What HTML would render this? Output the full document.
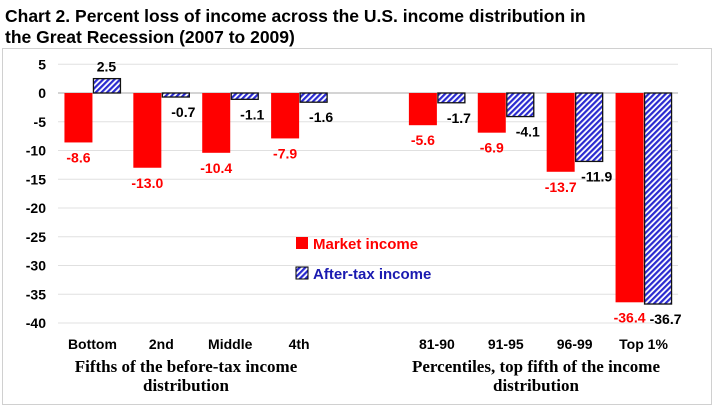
<!DOCTYPE html>
<html><head><meta charset="utf-8"><style>
body{margin:0;background:#fff;width:719px;height:411px;overflow:hidden;font-family:"Liberation Sans",sans-serif}
</style></head><body>
<svg width="719" height="411">
<defs><pattern id="hatch" width="4" height="4" patternUnits="userSpaceOnUse" patternTransform="rotate(45)">
<rect width="4" height="4" fill="#fff"/><rect width="2.2" height="4" fill="#2a2ad0"/></pattern></defs>
<text x="5" y="22" font-size="17.5" font-weight="bold" fill="#000">Chart 2. Percent loss of income across the U.S. income distribution in</text>
<text x="5" y="43" font-size="17.5" font-weight="bold" fill="#000">the Great Recession (2007 to 2009)</text>
<rect x="2.5" y="48.5" width="709" height="356" fill="none" stroke="#d0d0d0"/>
<g id="grid"></g><g id="bars"></g><g id="labels"></g>
<rect x="296" y="237" width="12" height="12" fill="#f00"/>
<text x="313" y="249" font-size="15" font-weight="bold" fill="#f00">Market income</text>
<rect x="296" y="267" width="12" height="12" fill="url(#hatch)" stroke="#000"/>
<text x="313" y="279" font-size="15" font-weight="bold" fill="#1a1ab0">After-tax income</text>
<text x="186" y="372" font-size="17" font-weight="bold" font-family="Liberation Serif,serif" text-anchor="middle">Fifths of the before-tax income</text>
<text x="186" y="391" font-size="17" font-weight="bold" font-family="Liberation Serif,serif" text-anchor="middle">distribution</text>
<text x="536" y="372" font-size="17" font-weight="bold" font-family="Liberation Serif,serif" text-anchor="middle">Percentiles, top fifth of the income</text>
<text x="536" y="391" font-size="17" font-weight="bold" font-family="Liberation Serif,serif" text-anchor="middle">distribution</text>
</svg>
<script>
const categories=["Bottom","2nd","Middle","4th","","81-90","91-95","96-99","Top 1%"];
const marketIncome=[-8.6,-13.0,-10.4,-7.9,null,-5.6,-6.9,-13.7,-36.4];
const afterTaxIncome=[2.5,-0.7,-1.1,-1.6,null,-1.7,-4.1,-11.9,-36.7];
const yTicks=[5,0,-5,-10,-15,-20,-25,-30,-35,-40];
const NS="http://www.w3.org/2000/svg";
const L=58,R=678,y0=93,k=5.75;
const y=v=>y0-v*k;
const slot=(R-L)/categories.length;
const cx=i=>L+(i+0.5)*slot;
function mk(t,a,p){const e=document.createElementNS(NS,t);for(const n in a)e.setAttribute(n,a[n]);p.appendChild(e);return e;}
const grid=document.getElementById('grid'),bars=document.getElementById('bars'),labels=document.getElementById('labels');
yTicks.forEach(t=>{
 const ln=mk('line',{x1:L,x2:R,y1:y(t),y2:y(t),stroke:t===0?'#aaa':'#e0e0e0','stroke-width':1},grid);
 
 
 const tx=mk('text',{x:46,y:y(t)+5,'font-size':14,'font-weight':'bold','text-anchor':'end'},grid);
 tx.textContent=t;
 
 
});
const bw=28;
categories.forEach((c,i)=>{
 if(!c)return;
 const x=cx(i);
 const ct=mk('text',{x:x,y:349,'font-size':14,'font-weight':'bold','text-anchor':'middle'},labels);
 ct.textContent=c;
 
 
 const m=marketIncome[i],a=afterTaxIncome[i];
 const r1=mk('rect',{x:x-bw,y:Math.min(y(m),y0),width:bw,height:Math.abs(y(m)-y0),fill:'#f00'},bars);
 
 
 const r2=mk('rect',{x:x+1,y:Math.min(y(a),y0),width:bw-1,height:Math.abs(y(a)-y0),fill:'url(#hatch)',stroke:'#111','stroke-width':1.3},bars);
 
 
 const t1=mk('text',{x:x-bw/2,y:y(m)+20,'font-size':14,'font-weight':'bold',fill:'#f00','text-anchor':'middle'},labels);
 t1.textContent=m.toFixed(1);
 
 
 const t2=mk('text',{x:a>=0?x+bw/2:x+bw/2+8,y:a>=0?y(a)-7:y(a)+20,'font-size':14,'font-weight':'bold',fill:'#000','text-anchor':'middle'},labels);
 t2.textContent=a.toFixed(1);
 
 
});
</script>
</body></html>
